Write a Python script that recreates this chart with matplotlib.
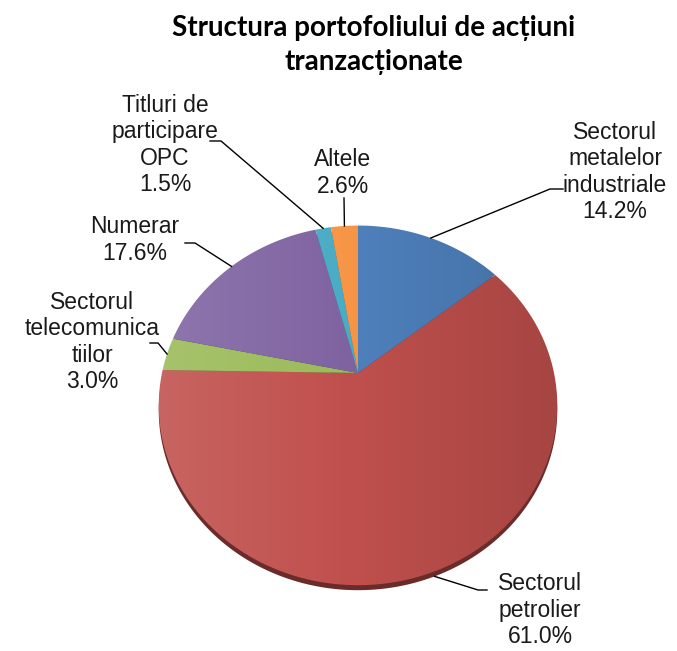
import numpy as np
import matplotlib.pyplot as plt
from matplotlib.colors import to_rgb
from matplotlib.patches import Polygon

# ======================================================
# DATA
# ======================================================

labels = [
    "Sectorul\nmetalelor\nindustriale",
    "Sectorul\npetrolier",
    "Sectorul\ntelecomunica\ntiilor",
    "Numerar",
    "Titluri de\nparticipare\nOPC",
    "Altele",
]

shares = [14.2, 61.0, 3.0, 17.6, 1.5, 2.6]

colors = ["#4F81BD", "#C0504D", "#9BBB59", "#8064A2", "#4BACC6", "#F79646"]

title = "Structura portofoliului de acțiuni\ntranzacționate"

# ======================================================
# LAYOUT (pixels)
# ======================================================

CX, CY = 358, 373      # pie centre
SX, SY = 196, 174      # radii before perspective
K = 0.18               # perspective tilt
DEPTH = 5              # 3d thickness

# label centre, then elbow points of the leader line
label_pos = [
    (615, 172, [(563, 189), (550, 189)]),
    (540, 610, [(487, 590), (478, 590)]),
    (92, 342, [(150, 343), (158, 343)]),
    (135, 240, [(185, 243), (195, 243)]),
    (165, 145, [(210, 141), (221, 141)]),
    (343, 173, [(344, 198)]),
]


def project(theta, r=1.0):
    u = r * np.cos(theta)
    v = r * np.sin(theta)
    d = 1 + K * v
    return CX + SX * u / d, CY - SY * v / d


def shade(c, s):
    c = np.array(to_rgb(c))
    if s < 0:
        return c + (1 - c) * (-s)
    return c * (1 - s)


fig = plt.figure(figsize=(6.77, 6.51), dpi=100)
ax = fig.add_axes([0, 0, 1, 1])
ax.axis("off")

frac = np.array(shares) / np.sum(shares)
edges = np.concatenate([[0], np.cumsum(frac)])

# side of the pie (visible only at the front)
for i, c in enumerate(colors):
    t = np.linspace(np.pi / 2 - 2 * np.pi * edges[i], np.pi / 2 - 2 * np.pi * edges[i + 1], 200)
    x, y = project(t)
    pts = np.column_stack([np.r_[CX, x], np.r_[CY, y] + DEPTH])
    ax.add_patch(Polygon(pts, closed=True, facecolor=shade(c, 0.45), edgecolor="none", zorder=1))

# top face with a left-to-right gradient
s = np.linspace(-0.12, 0.14, 256)
for i, c in enumerate(colors):
    t = np.linspace(np.pi / 2 - 2 * np.pi * edges[i], np.pi / 2 - 2 * np.pi * edges[i + 1], 200)
    x, y = project(t)
    pts = np.column_stack([np.r_[CX, x], np.r_[CY, y]])
    poly = Polygon(pts, closed=True, facecolor="none", edgecolor="none", zorder=2)
    ax.add_patch(poly)
    img = np.array([[shade(c, v) for v in s]] * 2)
    im = ax.imshow(img, extent=(CX - SX - 10, CX + SX + 10, CY + SY * 1.4, CY - SY * 1.1),
                   aspect="auto", zorder=2, interpolation="bilinear")
    im.set_clip_path(poly)

ax.set_xlim(0, 677)
ax.set_ylim(651, 0)

# labels and leader lines
for i, (lx, ly, elbow) in enumerate(label_pos):
    mid = np.pi / 2 - 2 * np.pi * (edges[i] + edges[i + 1]) / 2
    axp, ayp = project(mid)
    if i == 1:
        ayp += DEPTH
    px = [p[0] for p in elbow] + [axp]
    py = [p[1] for p in elbow] + [ayp]
    ax.plot(px, py, color="black", lw=1.0, zorder=3)
    ax.text(lx, ly, f"{labels[i]}\n{shares[i]:.1f}%", ha="center", va="center",
            fontsize=16.5, family=["Liberation Sans", "DejaVu Sans"], color="#1a1a1a",
            linespacing=1.2, zorder=4)

ax.text(374, 45, title, ha="center", va="center", fontsize=20, fontweight="bold",
        family="Lato", linespacing=1.35)

plt.savefig("out.png", dpi=100)
